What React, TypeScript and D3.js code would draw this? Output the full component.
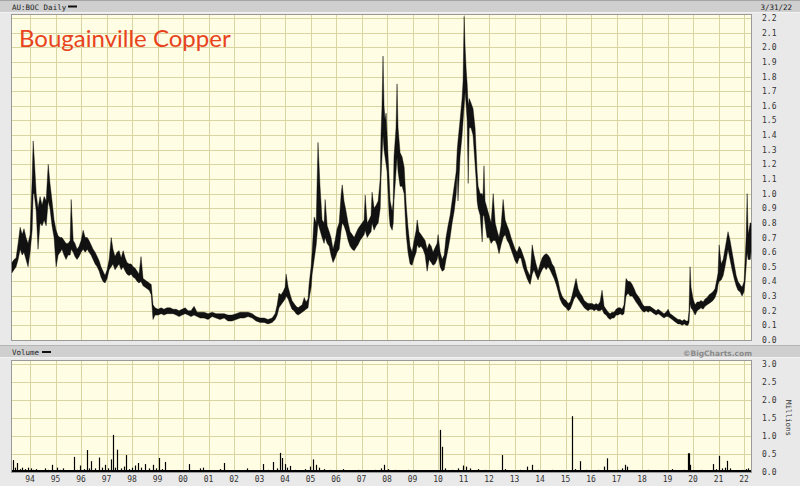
import React, { useEffect } from "react";
import * as d3 from "d3";

// [fractional year, low, high]
const price1993to1999: [number, number, number][] = [
  [1993.29, 0.46, 0.53], [1993.37, 0.48, 0.55], [1993.45, 0.5, 0.56], [1993.53, 0.55, 0.66],
  [1993.61, 0.62, 0.77], [1993.69, 0.58, 0.72], [1993.76, 0.6, 0.76], [1993.84, 0.55, 0.7],
  [1993.92, 0.5, 0.66], [1994.0, 0.6, 0.72], [1994.08, 0.75, 1.1], [1994.12, 1.0, 1.36],
  [1994.16, 1.0, 1.25], [1994.24, 0.88, 1.0], [1994.31, 0.62, 0.9], [1994.39, 0.8, 0.98],
  [1994.47, 0.78, 0.92], [1994.55, 0.82, 0.98], [1994.63, 0.78, 0.95], [1994.71, 0.95, 1.2],
  [1994.78, 0.9, 1.07], [1994.86, 0.78, 0.95], [1994.94, 0.7, 0.82], [1995.02, 0.5, 0.75],
  [1995.1, 0.58, 0.71], [1995.18, 0.6, 0.7], [1995.25, 0.62, 0.7], [1995.33, 0.58, 0.68],
  [1995.41, 0.55, 0.66], [1995.49, 0.58, 0.66], [1995.57, 0.58, 0.68], [1995.61, 0.62, 0.96],
  [1995.69, 0.6, 0.68], [1995.76, 0.57, 0.66], [1995.84, 0.55, 0.62], [1995.92, 0.57, 0.64],
  [1996.0, 0.6, 0.68], [1996.08, 0.62, 0.75], [1996.16, 0.6, 0.7], [1996.24, 0.62, 0.7],
  [1996.31, 0.6, 0.68], [1996.39, 0.58, 0.65], [1996.47, 0.55, 0.62], [1996.55, 0.52, 0.6],
  [1996.63, 0.5, 0.57], [1996.71, 0.47, 0.54], [1996.78, 0.43, 0.5], [1996.86, 0.4, 0.47],
  [1996.94, 0.39, 0.44], [1997.02, 0.42, 0.48], [1997.1, 0.48, 0.55], [1997.18, 0.5, 0.7],
  [1997.25, 0.52, 0.62], [1997.33, 0.48, 0.57], [1997.41, 0.5, 0.6], [1997.49, 0.52, 0.61],
  [1997.57, 0.48, 0.56], [1997.65, 0.5, 0.61], [1997.73, 0.47, 0.56], [1997.8, 0.45, 0.53],
  [1997.88, 0.44, 0.52], [1997.96, 0.45, 0.52], [1998.04, 0.43, 0.5], [1998.12, 0.42, 0.49],
  [1998.2, 0.4, 0.47], [1998.27, 0.39, 0.45], [1998.35, 0.4, 0.57], [1998.43, 0.37, 0.42],
  [1998.51, 0.36, 0.41], [1998.59, 0.35, 0.4], [1998.67, 0.34, 0.39], [1998.75, 0.31, 0.38],
  [1998.82, 0.14, 0.24], [1998.9, 0.17, 0.22],
];

const price1999to2005: [number, number, number][] = [
  [1999.02, 0.17, 0.21], [1999.14, 0.18, 0.22], [1999.25, 0.17, 0.21], [1999.37, 0.18, 0.22],
  [1999.49, 0.18, 0.22], [1999.61, 0.18, 0.21], [1999.73, 0.17, 0.21], [1999.84, 0.16, 0.2],
  [1999.96, 0.17, 0.21], [2000.08, 0.18, 0.22], [2000.2, 0.17, 0.2], [2000.31, 0.16, 0.2],
  [2000.43, 0.17, 0.23], [2000.55, 0.16, 0.19], [2000.67, 0.15, 0.19], [2000.82, 0.15, 0.19],
  [2000.98, 0.14, 0.18], [2001.14, 0.16, 0.19], [2001.29, 0.15, 0.18], [2001.45, 0.14, 0.18],
  [2001.61, 0.15, 0.18], [2001.76, 0.13, 0.17], [2001.92, 0.13, 0.17], [2002.08, 0.14, 0.18],
  [2002.24, 0.15, 0.19], [2002.39, 0.15, 0.19], [2002.55, 0.16, 0.19], [2002.71, 0.15, 0.18],
  [2002.86, 0.13, 0.16], [2003.02, 0.12, 0.15], [2003.18, 0.12, 0.15], [2003.33, 0.11, 0.14],
  [2003.49, 0.12, 0.15], [2003.61, 0.14, 0.18], [2003.69, 0.17, 0.24], [2003.76, 0.22, 0.32],
  [2003.84, 0.24, 0.31], [2003.92, 0.26, 0.33], [2004.0, 0.28, 0.36], [2004.04, 0.3, 0.45],
  [2004.12, 0.28, 0.36], [2004.2, 0.24, 0.31], [2004.27, 0.21, 0.27], [2004.35, 0.2, 0.25],
  [2004.43, 0.18, 0.23], [2004.51, 0.17, 0.22], [2004.59, 0.18, 0.23], [2004.67, 0.19, 0.24],
  [2004.75, 0.2, 0.29], [2004.82, 0.21, 0.26], [2004.9, 0.22, 0.28], [2004.94, 0.28, 0.38],
];

const price2005to2010: [number, number, number][] = [
  [2005.02, 0.36, 0.5], [2005.06, 0.45, 0.6], [2005.14, 0.55, 0.84], [2005.22, 0.65, 0.8],
  [2005.29, 0.8, 1.35], [2005.37, 0.75, 1.05], [2005.45, 0.7, 0.82], [2005.53, 0.66, 0.8],
  [2005.57, 0.7, 0.96], [2005.65, 0.66, 0.78], [2005.73, 0.64, 0.74], [2005.8, 0.58, 0.7],
  [2005.88, 0.53, 0.62], [2005.96, 0.56, 0.68], [2006.04, 0.6, 0.76], [2006.12, 0.62, 0.8],
  [2006.2, 0.75, 1.0], [2006.24, 0.8, 1.06], [2006.31, 0.78, 0.95], [2006.39, 0.74, 0.88],
  [2006.47, 0.68, 0.8], [2006.55, 0.64, 0.74], [2006.63, 0.62, 0.72], [2006.71, 0.61, 0.7],
  [2006.78, 0.63, 0.73], [2006.86, 0.65, 0.76], [2006.94, 0.68, 0.78], [2007.02, 0.7, 0.8],
  [2007.1, 0.72, 0.82], [2007.14, 0.75, 0.99], [2007.22, 0.7, 0.8], [2007.29, 0.72, 0.82],
  [2007.37, 0.74, 0.85], [2007.41, 0.8, 1.01], [2007.49, 0.75, 0.9], [2007.57, 0.78, 0.92],
  [2007.65, 0.8, 0.95], [2007.73, 0.9, 1.1], [2007.76, 1.1, 1.4], [2007.8, 1.25, 1.6],
  [2007.84, 1.4, 1.94], [2007.88, 1.3, 1.6], [2007.92, 1.25, 1.5], [2007.96, 1.2, 1.55],
  [2008.0, 1.15, 1.4], [2008.04, 1.0, 1.25], [2008.08, 0.85, 1.1], [2008.12, 0.78, 0.95],
  [2008.2, 0.75, 0.88], [2008.24, 0.8, 0.95], [2008.27, 0.95, 1.25], [2008.35, 1.15, 1.45],
  [2008.39, 1.25, 1.75], [2008.43, 1.15, 1.45], [2008.51, 1.05, 1.28], [2008.59, 1.05, 1.25],
  [2008.67, 1.0, 1.18], [2008.71, 0.85, 1.05], [2008.75, 0.72, 0.92], [2008.82, 0.6, 0.77],
  [2008.9, 0.52, 0.64], [2008.98, 0.51, 0.6], [2009.06, 0.56, 0.68], [2009.14, 0.6, 0.75],
  [2009.18, 0.65, 0.82], [2009.25, 0.63, 0.74], [2009.33, 0.64, 0.72], [2009.41, 0.62, 0.7],
  [2009.49, 0.58, 0.68], [2009.57, 0.47, 0.62], [2009.65, 0.55, 0.66], [2009.73, 0.53, 0.64],
  [2009.8, 0.51, 0.6], [2009.88, 0.52, 0.63], [2009.96, 0.55, 0.66],
];

const price2010to2016: [number, number, number][] = [
  [2010.0, 0.58, 0.72], [2010.08, 0.5, 0.6], [2010.16, 0.47, 0.55], [2010.24, 0.48, 0.58],
  [2010.31, 0.55, 0.7], [2010.39, 0.62, 0.78], [2010.47, 0.7, 0.85], [2010.55, 0.8, 0.95],
  [2010.63, 0.88, 1.05], [2010.71, 1.0, 1.15], [2010.75, 1.15, 1.3], [2010.78, 0.95, 1.36],
  [2010.86, 1.25, 1.5], [2010.94, 1.4, 1.65], [2010.98, 1.5, 1.77], [2011.02, 1.6, 2.21],
  [2011.06, 1.7, 2.0], [2011.1, 1.6, 1.85], [2011.14, 1.5, 1.75], [2011.18, 1.07, 1.6],
  [2011.22, 1.45, 1.65], [2011.29, 1.45, 1.62], [2011.37, 1.4, 1.58], [2011.45, 1.2, 1.45],
  [2011.49, 1.1, 1.3], [2011.53, 0.95, 1.15], [2011.57, 0.9, 1.05], [2011.65, 0.85, 1.0],
  [2011.73, 0.67, 1.0], [2011.76, 0.85, 0.98], [2011.8, 0.85, 1.19], [2011.84, 0.8, 0.95],
  [2011.92, 0.7, 0.9], [2012.0, 0.7, 0.85], [2012.08, 0.66, 0.8], [2012.16, 0.68, 1.0],
  [2012.24, 0.68, 0.8], [2012.31, 0.65, 0.75], [2012.39, 0.59, 0.7], [2012.47, 0.65, 0.78],
  [2012.55, 0.7, 0.96], [2012.63, 0.72, 0.82], [2012.71, 0.68, 0.78], [2012.78, 0.66, 0.75],
  [2012.86, 0.62, 0.7], [2012.94, 0.58, 0.66], [2013.02, 0.54, 0.62], [2013.1, 0.52, 0.6],
  [2013.18, 0.56, 0.64], [2013.25, 0.56, 0.62], [2013.33, 0.5, 0.58], [2013.41, 0.46, 0.54],
  [2013.49, 0.42, 0.48], [2013.57, 0.39, 0.45], [2013.61, 0.38, 0.44], [2013.69, 0.45, 0.65],
  [2013.76, 0.48, 0.58], [2013.84, 0.44, 0.52], [2013.92, 0.41, 0.47], [2014.0, 0.45, 0.52],
  [2014.08, 0.48, 0.56], [2014.16, 0.5, 0.58], [2014.24, 0.48, 0.59], [2014.31, 0.5, 0.58],
  [2014.39, 0.48, 0.56], [2014.47, 0.45, 0.52], [2014.55, 0.42, 0.5], [2014.63, 0.38, 0.45],
  [2014.71, 0.33, 0.4], [2014.78, 0.28, 0.34], [2014.86, 0.25, 0.3], [2014.94, 0.23, 0.28],
  [2015.02, 0.22, 0.27], [2015.1, 0.2, 0.25], [2015.18, 0.21, 0.26], [2015.25, 0.24, 0.3],
  [2015.33, 0.28, 0.36], [2015.41, 0.3, 0.42], [2015.49, 0.28, 0.35], [2015.57, 0.26, 0.32],
  [2015.65, 0.24, 0.3], [2015.73, 0.22, 0.27], [2015.8, 0.21, 0.26], [2015.88, 0.2, 0.25],
  [2015.96, 0.21, 0.25],
];

const price2016to2022: [number, number, number][] = [
  [2016.04, 0.21, 0.25], [2016.12, 0.2, 0.24], [2016.2, 0.21, 0.25], [2016.27, 0.2, 0.24],
  [2016.35, 0.2, 0.26], [2016.43, 0.21, 0.34], [2016.51, 0.18, 0.23], [2016.59, 0.17, 0.21],
  [2016.67, 0.15, 0.19], [2016.75, 0.14, 0.18], [2016.82, 0.15, 0.19], [2016.9, 0.15, 0.19],
  [2016.98, 0.17, 0.21], [2017.06, 0.17, 0.22], [2017.14, 0.18, 0.22], [2017.22, 0.17, 0.21],
  [2017.29, 0.18, 0.24], [2017.37, 0.3, 0.42], [2017.45, 0.32, 0.4], [2017.53, 0.3, 0.4],
  [2017.61, 0.3, 0.38], [2017.69, 0.28, 0.35], [2017.76, 0.26, 0.32], [2017.84, 0.24, 0.3],
  [2017.92, 0.22, 0.28], [2018.0, 0.2, 0.25], [2018.08, 0.19, 0.23], [2018.16, 0.2, 0.23],
  [2018.24, 0.19, 0.23], [2018.31, 0.2, 0.23], [2018.39, 0.19, 0.22], [2018.47, 0.18, 0.21],
  [2018.55, 0.17, 0.2], [2018.63, 0.18, 0.21], [2018.71, 0.17, 0.2], [2018.78, 0.16, 0.19],
  [2018.86, 0.15, 0.18], [2018.94, 0.16, 0.19], [2019.02, 0.16, 0.21], [2019.1, 0.15, 0.18],
  [2019.18, 0.14, 0.17], [2019.25, 0.13, 0.16], [2019.33, 0.12, 0.15], [2019.41, 0.11, 0.14],
  [2019.49, 0.11, 0.14], [2019.57, 0.1, 0.13], [2019.65, 0.11, 0.14], [2019.73, 0.1, 0.13],
  [2019.8, 0.1, 0.13], [2019.84, 0.12, 0.2], [2019.88, 0.25, 0.5], [2019.92, 0.22, 0.36],
  [2020.0, 0.2, 0.28], [2020.08, 0.17, 0.24], [2020.16, 0.2, 0.26], [2020.24, 0.21, 0.26],
  [2020.31, 0.22, 0.27], [2020.39, 0.21, 0.26], [2020.47, 0.23, 0.28], [2020.55, 0.24, 0.29],
  [2020.63, 0.25, 0.31], [2020.71, 0.26, 0.32], [2020.78, 0.27, 0.33], [2020.86, 0.29, 0.35],
  [2020.94, 0.33, 0.42], [2020.98, 0.38, 0.46], [2021.02, 0.4, 0.65], [2021.1, 0.41, 0.52],
  [2021.18, 0.44, 0.55], [2021.25, 0.5, 0.62], [2021.33, 0.58, 0.7], [2021.37, 0.62, 0.74],
  [2021.45, 0.55, 0.68], [2021.53, 0.48, 0.6], [2021.61, 0.42, 0.52], [2021.69, 0.37, 0.44],
  [2021.76, 0.34, 0.4], [2021.84, 0.33, 0.38], [2021.92, 0.3, 0.36], [2022.0, 0.33, 0.4],
  [2022.04, 0.4, 0.55], [2022.08, 0.5, 0.7], [2022.12, 0.6, 1.0], [2022.16, 0.55, 0.72],
  [2022.24, 0.55, 0.8], [2022.27, 0.6, 0.8],
];

// [fractional year, volume in millions]
const volume1993to2004: [number, number][] = [
  [1993.33, 0.33], [1993.41, 0.12], [1993.49, 0.25], [1993.61, 0.08], [1993.69, 0.12],
  [1993.8, 0.08], [1993.92, 0.12], [1994.04, 0.1], [1994.12, 0.06], [1994.24, 0.08],
  [1994.39, 0.05], [1994.59, 0.1], [1994.71, 0.06], [1994.86, 0.2], [1995.06, 0.12],
  [1995.18, 0.06], [1995.29, 0.1], [1995.49, 0.05], [1995.73, 0.42], [1995.84, 0.06],
  [1995.96, 0.18], [1996.12, 0.08], [1996.24, 0.61], [1996.31, 0.1], [1996.39, 0.3],
  [1996.55, 0.1], [1996.71, 0.4], [1996.82, 0.12], [1996.94, 0.2], [1997.06, 0.1],
  [1997.18, 0.35], [1997.25, 1.03], [1997.33, 0.12], [1997.41, 0.62], [1997.57, 0.1],
  [1997.69, 0.15], [1997.76, 0.47], [1997.88, 0.08], [1998.0, 0.12], [1998.12, 0.18],
  [1998.24, 0.25], [1998.35, 0.12], [1998.51, 0.22], [1998.67, 0.1], [1998.82, 0.2],
  [1998.94, 0.1], [1999.06, 0.39], [1999.18, 0.08], [1999.29, 0.28], [1999.49, 0.05],
  [1999.73, 0.04], [2000.0, 0.05], [2000.24, 0.22], [2000.47, 0.05], [2000.67, 0.1],
  [2000.78, 0.12], [2001.06, 0.04], [2001.29, 0.05], [2001.45, 0.08], [2001.61, 0.25],
  [2001.84, 0.04], [2002.16, 0.03], [2002.51, 0.1], [2002.82, 0.04], [2003.14, 0.22],
  [2003.33, 0.06], [2003.53, 0.28], [2003.69, 0.1], [2003.8, 0.53], [2003.88, 0.39],
  [2004.0, 0.22], [2004.08, 0.12], [2004.2, 0.17], [2004.39, 0.06], [2004.59, 0.05],
  [2004.78, 0.08], [2004.98, 0.15],
];

const volume2005to2022: [number, number][] = [
  [2005.1, 0.35], [2005.22, 0.2], [2005.33, 0.12], [2005.53, 0.08], [2005.76, 0.06],
  [2006.04, 0.05], [2006.27, 0.08], [2006.55, 0.05], [2006.86, 0.06], [2007.18, 0.05],
  [2007.53, 0.06], [2007.76, 0.1], [2007.88, 0.2], [2008.04, 0.08], [2008.31, 0.06],
  [2008.51, 0.05], [2008.82, 0.06], [2009.1, 0.04], [2009.49, 0.04], [2009.76, 0.05],
  [2010.08, 1.17], [2010.16, 0.7], [2010.27, 0.1], [2010.55, 0.06], [2010.78, 0.1],
  [2010.98, 0.18], [2011.1, 0.15], [2011.25, 0.1], [2011.57, 0.08], [2011.84, 0.06],
  [2012.12, 0.05], [2012.51, 0.47], [2012.63, 0.08], [2012.9, 0.05], [2013.22, 0.06],
  [2013.49, 0.15], [2013.69, 0.2], [2013.92, 0.06], [2014.2, 0.05], [2014.47, 0.06],
  [2014.78, 0.05], [2015.02, 0.04], [2015.25, 1.55], [2015.37, 0.08], [2015.57, 0.3],
  [2015.8, 0.06], [2016.04, 0.05], [2016.27, 0.06], [2016.51, 0.15], [2016.63, 0.38],
  [2016.82, 0.05], [2017.06, 0.06], [2017.22, 0.1], [2017.33, 0.2], [2017.41, 0.15],
  [2017.61, 0.05], [2017.92, 0.04], [2018.24, 0.06], [2018.51, 0.04], [2018.78, 0.05],
  [2019.18, 0.08], [2019.41, 0.05], [2019.65, 0.06], [2019.8, 0.52], [2019.84, 0.52],
  [2019.88, 0.2], [2020.04, 0.05], [2020.31, 0.06], [2020.51, 0.05], [2020.75, 0.05],
  [2020.78, 0.22], [2020.9, 0.08], [2021.02, 0.45], [2021.14, 0.1], [2021.25, 0.12],
  [2021.33, 0.31], [2021.45, 0.1], [2021.65, 0.05], [2021.92, 0.06], [2022.08, 0.08],
  [2022.16, 0.1],
];

const yearTicks = d3.range(1994, 2023);
const priceTicks = d3.range(0, 23).map((i) => i / 10);
const volumeTicks = [0, 0.5, 1, 1.5, 2, 2.5, 3];

const TITLE = "Bougainville Copper";
const SYMBOL = "AU:BOC Daily";
const END_DATE = "3/31/22";

export default function App() {
  useEffect(() => {
    document.body.style.margin = "0";
  }, []);

  const W = 800;
  const H = 486;
  const left = 11;
  const right = 752;
  const pTop = 14;
  const pBottom = 340;
  const vTop = 360;
  const vBottom = 472;

  const x = d3.scaleLinear().domain([1993.29, 2022.31]).range([12, 752]);
  const yP = d3.scaleLinear().domain([0, 2.2]).range([340, 18]);
  const yV = d3.scaleLinear().domain([0, 3]).range([472, 364]);

  const bars = [...price1993to1999, ...price1999to2005, ...price2005to2010, ...price2010to2016, ...price2016to2022];
  const vols = [...volume1993to2004, ...volume2005to2022];

  const area = d3
    .area<[number, number, number]>()
    .x((d) => x(d[0]))
    .y0((d) => yP(d[1]))
    .y1((d) => yP(d[2]))
    .curve(d3.curveLinear);

  const mono = "'DejaVu Sans Mono', monospace";
  const gridColor = "#d9d5a3";
  const label = (y: number) => (y === 0 ? "0.0" : d3.format(".1f")(y));

  return (
    <svg width={W} height={H} style={{ display: "block", position: "absolute", left: 0, top: 0 }}>
      <rect x={0} y={0} width={W} height={H} fill="#e9e9e9" />
      {/* header band */}
      <rect x={0} y={0} width={W} height={13} fill="#cfcfcf" />
      <line x1={0} x2={W} y1={0.5} y2={0.5} stroke="#a5a5a5" />
      <line x1={0} x2={W} y1={12.5} y2={12.5} stroke="#f2f2f2" />
      <text x={12} y={9.5} fontFamily={mono} fontSize={7.5} fill="#222">{SYMBOL}</text>
      <line x1={68} x2={77} y1={6.5} y2={6.5} stroke="#111" strokeWidth={2} />
      <text x={792} y={9.5} fontFamily={mono} fontSize={7.5} fill="#222" textAnchor="end">{END_DATE}</text>

      {/* price plot */}
      <rect x={left} y={pTop} width={right - left} height={pBottom - pTop} fill="#fffde3" />
      {priceTicks.map((t) => (
        <line key={"ph" + t} x1={left} x2={right} y1={Math.round(yP(t)) + 0.5} y2={Math.round(yP(t)) + 0.5} stroke={gridColor} />
      ))}
      {yearTicks.map((t) => (
        <line key={"pv" + t} x1={Math.round(x(t)) + 0.5} x2={Math.round(x(t)) + 0.5} y1={pTop} y2={pBottom} stroke={gridColor} />
      ))}
      <rect x={left + 0.5} y={pTop + 0.5} width={right - left - 1} height={pBottom - pTop} fill="none" stroke="#9a9a9a" />
      {priceTicks.map((t) => (
        <text key={"pl" + t} x={762} y={yP(t) + 3} fontFamily={mono} fontSize={8} fill="#333">{label(t)}</text>
      ))}
      <path d={area(bars) || ""} fill="#111" stroke="#000" strokeWidth={0.4} />
      <text x={19} y={47} fontFamily="Lato, 'Open Sans', sans-serif" fontSize={24} fill="#e8431d">{TITLE}</text>

      {/* volume header band */}
      <rect x={0} y={346} width={W} height={12} fill="#cfcfcf" />
      <line x1={0} x2={W} y1={345.5} y2={345.5} stroke="#b5b5b5" />
      <line x1={0} x2={W} y1={357.5} y2={357.5} stroke="#f2f2f2" />
      <text x={12} y={355} fontFamily={mono} fontSize={7.5} fill="#222">Volume</text>
      <line x1={42} x2={51} y1={352} y2={352} stroke="#111" strokeWidth={2} />
      <text x={752} y={355.5} fontFamily="'DejaVu Sans', sans-serif" fontWeight="bold" fontSize={7.5} fill="#8a8a8a" textAnchor="end">©BigCharts.com</text>

      {/* volume plot */}
      <rect x={left} y={vTop} width={right - left} height={vBottom - vTop} fill="#fffde3" />
      {volumeTicks.map((t) => (
        <line key={"vh" + t} x1={left} x2={right} y1={Math.round(yV(t)) + 0.5} y2={Math.round(yV(t)) + 0.5} stroke={gridColor} />
      ))}
      {yearTicks.map((t) => (
        <line key={"vv" + t} x1={Math.round(x(t)) + 0.5} x2={Math.round(x(t)) + 0.5} y1={vTop} y2={vBottom} stroke={gridColor} />
      ))}
      <rect x={left + 0.5} y={vTop + 0.5} width={right - left - 1} height={vBottom - vTop} fill="none" stroke="#9a9a9a" />
      {vols.map((d, i) => (
        <line key={"vb" + i} x1={Math.round(x(d[0])) + 0.5} x2={Math.round(x(d[0])) + 0.5} y1={yV(0)} y2={yV(d[1])} stroke="#000" strokeWidth={1.2} />
      ))}
      <line x1={x(bars[0][0])} x2={x(bars[bars.length - 1][0])} y1={yV(0) - 1} y2={yV(0) - 1} stroke="#000" strokeWidth={2} />
      {volumeTicks.map((t) => (
        <text key={"vl" + t} x={762} y={yV(t) + 3} fontFamily={mono} fontSize={8} fill="#333">{d3.format(".1f")(t)}</text>
      ))}
      <text transform={`translate(786,418) rotate(90)`} fontFamily={mono} fontSize={7.5} fill="#333" textAnchor="middle">Millions</text>

      {/* x axis labels */}
      {yearTicks.map((t) => (
        <text key={"xl" + t} x={x(t)} y={482} fontFamily={mono} fontSize={8} fill="#333" textAnchor="middle">{String(t % 100).padStart(2, "0")}</text>
      ))}
    </svg>
  );
}
